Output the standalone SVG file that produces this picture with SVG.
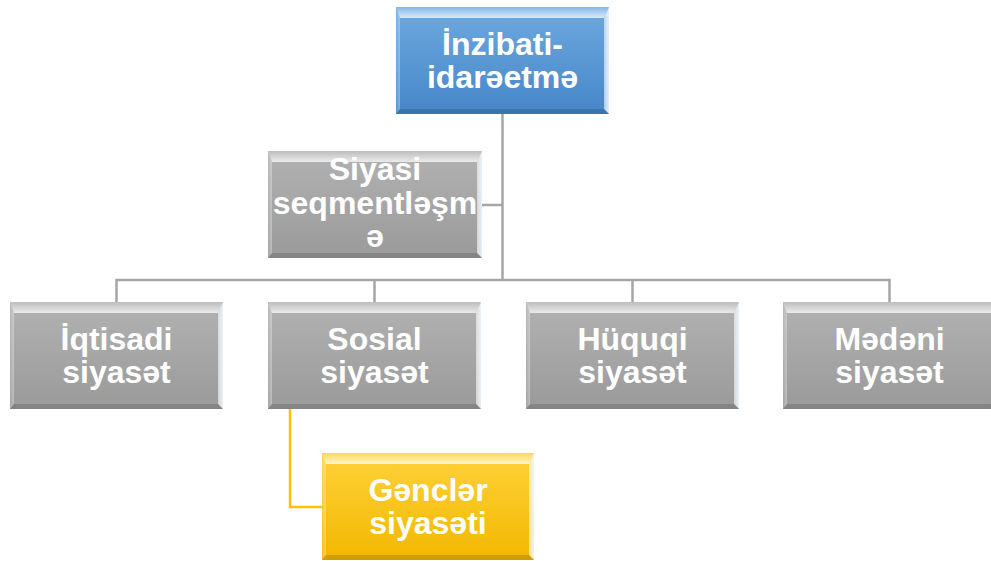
<svg xmlns="http://www.w3.org/2000/svg" width="991" height="561" viewBox="0 0 991 561">
  <defs>
    <linearGradient id="gGray" x1="0" y1="0" x2="0" y2="1">
      <stop offset="0" stop-color="#b2b2b2"/>
      <stop offset="1" stop-color="#9a9a9a"/>
    </linearGradient>
    <linearGradient id="gBlue" x1="0" y1="0" x2="0" y2="1">
      <stop offset="0" stop-color="#6eaae0"/>
      <stop offset="1" stop-color="#4686c8"/>
    </linearGradient>
    <linearGradient id="gYellow" x1="0" y1="0" x2="0" y2="1">
      <stop offset="0" stop-color="#ffd23a"/>
      <stop offset="1" stop-color="#f2b800"/>
    </linearGradient>
    <linearGradient id="gTop" x1="0" y1="0" x2="0" y2="1">
      <stop offset="0" stop-color="#ffffff" stop-opacity="0.15"/>
      <stop offset="1" stop-color="#ffffff" stop-opacity="0.75"/>
    </linearGradient>
    <linearGradient id="gLeft" x1="0" y1="0" x2="1" y2="0">
      <stop offset="0" stop-color="#ffffff" stop-opacity="0.1"/>
      <stop offset="1" stop-color="#ffffff" stop-opacity="0.35"/>
    </linearGradient>
    <linearGradient id="gRight" x1="0" y1="0" x2="1" y2="0">
      <stop offset="0" stop-color="#ffffff" stop-opacity="0.55"/>
      <stop offset="1" stop-color="#eaf6ff" stop-opacity="0.95"/>
    </linearGradient>
  </defs>
  <style>
    .conn { fill: none; stroke: #a6a6a6; stroke-width: 2.5; }
    .connY { fill: none; stroke: #ffc000; stroke-width: 2.5; }
    .top { fill: url(#gTop); }
    .left { fill: url(#gLeft); }
    .right { fill: url(#gRight); }
    .bottom { fill: #000000; fill-opacity: 0.14; }
    .gray { fill: url(#gGray); }
    .blue { fill: url(#gBlue); }
    .yellow { fill: url(#gYellow); }
    text { font-family: "Liberation Sans", Arial, sans-serif; font-weight: bold; font-size: 32px; fill: #ffffff; text-anchor: middle; }
  </style>

  <g id="connectors">
    <path class="conn" d="M502.5 114 V280"/>
    <path class="conn" d="M116.5 302 V280 H889.5 V302"/>
    <path class="conn" d="M374.5 280 V302"/>
    <path class="conn" d="M632.5 280 V302"/>
    <path class="conn" d="M482 205 H502.5"/>
    <path class="connY" d="M290 409 V507 H322"/>
  </g>

  <g id="node-inzibati">
    <rect class="blue" x="396" y="7" width="213" height="107"/>
    <polygon class="top" points="396,7 609,7 604,18 400,18"/>
    <polygon class="left" points="396,7 400,18 400,109 396,114"/>
    <polygon class="right" points="609,7 609,114 604,109 604,18"/>
    <polygon class="bottom" points="396,114 609,114 604,109 400,109"/>
    <text x="502.5" y="55">İnzibati-</text>
    <text x="502.5" y="88">idarəetmə</text>
  </g>

  <g id="node-siyasi">
    <rect class="gray" x="268" y="151" width="214" height="107"/>
    <polygon class="top" points="268,151 482,151 477,162 272,162"/>
    <polygon class="left" points="268,151 272,162 272,253 268,258"/>
    <polygon class="right" points="482,151 482,258 477,253 477,162"/>
    <polygon class="bottom" points="268,258 482,258 477,253 272,253"/>
    <text x="375" y="180">Siyasi</text>
    <text x="375" y="214">seqmentləşm</text>
    <text x="375" y="247">ə</text>
  </g>

  <g id="node-iqtisadi">
    <rect class="gray" x="10" y="302" width="213" height="107"/>
    <polygon class="top" points="10,302 223,302 218,313 14,313"/>
    <polygon class="left" points="10,302 14,313 14,404 10,409"/>
    <polygon class="right" points="223,302 223,409 218,404 218,313"/>
    <polygon class="bottom" points="10,409 223,409 218,404 14,404"/>
    <text x="116.5" y="350">İqtisadi</text>
    <text x="116.5" y="383">siyasət</text>
  </g>

  <g id="node-sosial">
    <rect class="gray" x="268" y="302" width="213" height="107"/>
    <polygon class="top" points="268,302 481,302 476,313 272,313"/>
    <polygon class="left" points="268,302 272,313 272,404 268,409"/>
    <polygon class="right" points="481,302 481,409 476,404 476,313"/>
    <polygon class="bottom" points="268,409 481,409 476,404 272,404"/>
    <text x="374.5" y="350">Sosial</text>
    <text x="374.5" y="383">siyasət</text>
  </g>

  <g id="node-huquqi">
    <rect class="gray" x="526" y="302" width="213" height="107"/>
    <polygon class="top" points="526,302 739,302 734,313 530,313"/>
    <polygon class="left" points="526,302 530,313 530,404 526,409"/>
    <polygon class="right" points="739,302 739,409 734,404 734,313"/>
    <polygon class="bottom" points="526,409 739,409 734,404 530,404"/>
    <text x="632.5" y="350">Hüquqi</text>
    <text x="632.5" y="383">siyasət</text>
  </g>

  <g id="node-medeni">
    <rect class="gray" x="783" y="302" width="213" height="107"/>
    <polygon class="top" points="783,302 996,302 991,313 787,313"/>
    <polygon class="left" points="783,302 787,313 787,404 783,409"/>
    <polygon class="right" points="996,302 996,409 991,404 991,313"/>
    <polygon class="bottom" points="783,409 996,409 991,404 787,404"/>
    <text x="889.5" y="350">Mədəni</text>
    <text x="889.5" y="383">siyasət</text>
  </g>

  <g id="node-gencler">
    <rect class="yellow" x="322" y="453" width="212" height="107"/>
    <polygon class="top" points="322,453 534,453 529,464 326,464"/>
    <polygon class="left" points="322,453 326,464 326,555 322,560"/>
    <polygon class="right" points="534,453 534,560 529,555 529,464"/>
    <polygon class="bottom" points="322,560 534,560 529,555 326,555"/>
    <text x="428" y="501">Gənclər</text>
    <text x="428" y="534">siyasəti</text>
  </g>
</svg>
